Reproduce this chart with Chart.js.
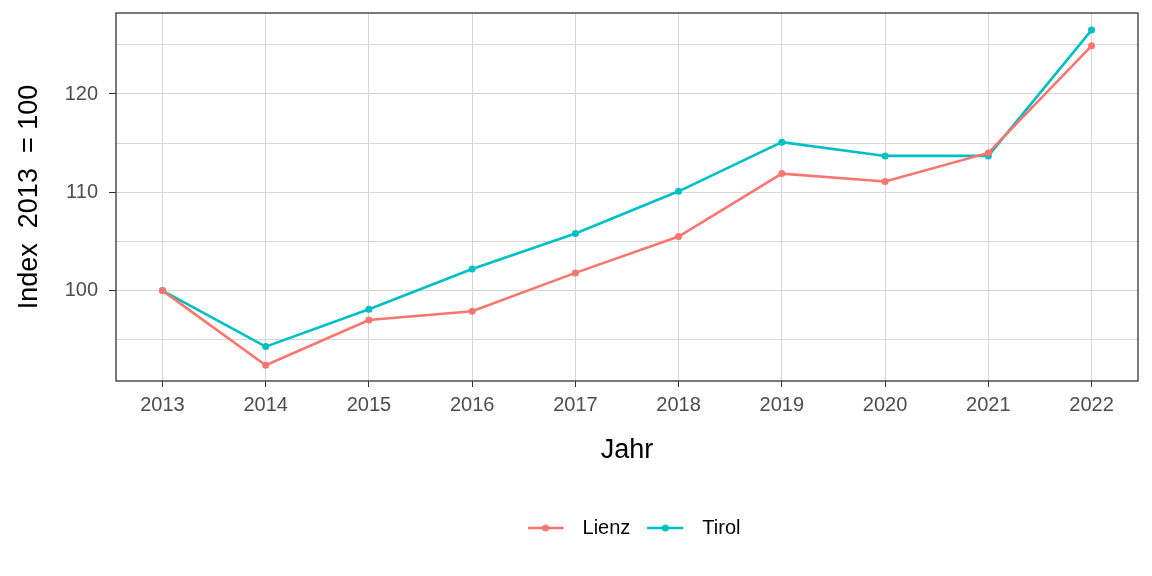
<!DOCTYPE html>
<html>
<head>
<meta charset="utf-8">
<script src="https://cdn.jsdelivr.net/npm/chart.js@4"></script>
<style>
  html, body { margin: 0; padding: 0; background: #fff; }
  #wrap { width: 1152px; height: 576px; }
</style>
</head>
<body>
<div id="wrap"><canvas id="chart" width="1152" height="576"></canvas></div>
<script>
// --- data ---
const years = [2013, 2014, 2015, 2016, 2017, 2018, 2019, 2020, 2021, 2022];
const lienz = [100, 92.4, 97.0, 97.9, 101.8, 105.5, 111.9, 111.1, 114.0, 124.9];
const tirol = [100, 94.3, 98.1, 102.2, 105.8, 110.1, 115.1, 113.7, 113.7, 126.5];
const yTicks = [95, 100, 105, 110, 115, 120, 125];

const FONT = '"Liberation Sans", Arial, sans-serif';

// legend glyph: line with a dot, like ggplot's key (left part of a wider canvas)
function keyGlyph(color) {
    const c = document.createElement('canvas');
    c.width = 45; c.height = 12;
    const g = c.getContext('2d');
    g.strokeStyle = color;
    g.lineWidth = 2.6;
    g.beginPath(); g.moveTo(0, 6); g.lineTo(36, 6); g.stroke();
    g.fillStyle = color;
    g.beginPath(); g.arc(18, 6, 3.5, 0, Math.PI * 2); g.fill();
    return c;
}

// panel border (theme_bw) + legend nudged to sit where ggplot puts it
const panelBorder = {
    id: 'panelBorder',
    afterLayout(chart) {
        if (chart.legend) {
            chart.legend.left += 65;
            chart.legend.right += 65;
        }
    },
    afterDraw(chart) {
        const a = chart.chartArea, ctx = chart.ctx;
        ctx.save();
        ctx.strokeStyle = '#333333';
        ctx.lineWidth = 1.3;
        ctx.strokeRect(a.left, a.top, a.right - a.left, a.bottom - a.top);
        ctx.restore();
    }
};

function series(label, values, color) {
    return {
        label: label,
        data: years.map((y, i) => ({ x: y, y: values[i] })),
        borderColor: color,
        backgroundColor: color,
        borderWidth: 2.6,
        pointRadius: 3.5,
        pointHoverRadius: 3.5,
        pointBorderWidth: 0,
        tension: 0
    };
}

new Chart(document.getElementById('chart').getContext('2d'), {
    type: 'line',
    data: {
        datasets: [
            series('Lienz', lienz, '#F8766D'),
            series('Tirol', tirol, '#00BFC4')
        ]
    },
    plugins: [panelBorder],
    options: {
        responsive: false,
        animation: false,
        layout: { padding: { top: 13, right: 14, left: 0, bottom: 28 } },
        scales: {
            x: {
                type: 'linear',
                min: 2012.55,
                max: 2022.45,
                afterBuildTicks: axis => { axis.ticks = years.map(v => ({ value: v })); },
                afterFit: scale => {
                    scale.height = 120;
                    scale.paddingLeft = 0;
                    scale.paddingRight = 0;
                },
                grid: { color: '#d6d6d6', lineWidth: 1, tickColor: '#333333', tickLength: 6, drawTicks: true },
                border: { display: false },
                ticks: {
                    color: '#4d4d4d',
                    font: { family: FONT, size: 20 },
                    padding: 6,
                    callback: v => String(v)
                },
                title: {
                    display: true,
                    text: 'Jahr',
                    color: '#000000',
                    font: { family: FONT, size: 27 },
                    padding: { top: 12, bottom: 34 }
                }
            },
            y: {
                min: 90.8,
                max: 128.24,
                afterBuildTicks: axis => { axis.ticks = yTicks.map(v => ({ value: v })); },
                afterFit: scale => {
                    scale.width = 116;
                    scale.paddingTop = 0;
                    scale.paddingBottom = 0;
                },
                grid: {
                    color: '#d6d6d6',
                    lineWidth: 1,
                    tickLength: 7,
                    tickColor: ctx => (ctx.tick && ctx.tick.value % 10 === 0) ? '#333333' : 'rgba(0,0,0,0)'
                },
                border: { display: false },
                ticks: {
                    color: '#4d4d4d',
                    font: { family: FONT, size: 20 },
                    padding: 11,
                    callback: v => (v % 10 === 0 ? String(v) : '')
                },
                title: {
                    display: true,
                    text: 'Index  2013  = 100',
                    color: '#000000',
                    font: { family: FONT, size: 27 },
                    padding: { top: 13, bottom: 10 }
                }
            }
        },
        plugins: {
            legend: {
                position: 'bottom',
                labels: {
                    color: '#000000',
                    font: { family: FONT, size: 20 },
                    usePointStyle: true,
                    pointStyleWidth: 45,
                    padding: 17,
                    generateLabels: chart => chart.data.datasets.map((ds, i) => ({
                        text: ds.label,
                        pointStyle: keyGlyph(ds.borderColor),
                        fillStyle: ds.borderColor,
                        strokeStyle: ds.borderColor,
                        lineWidth: 0,
                        hidden: false,
                        datasetIndex: i
                    }))
                }
            },
            tooltip: { enabled: false }
        }
    }
});
</script>
</body>
</html>
